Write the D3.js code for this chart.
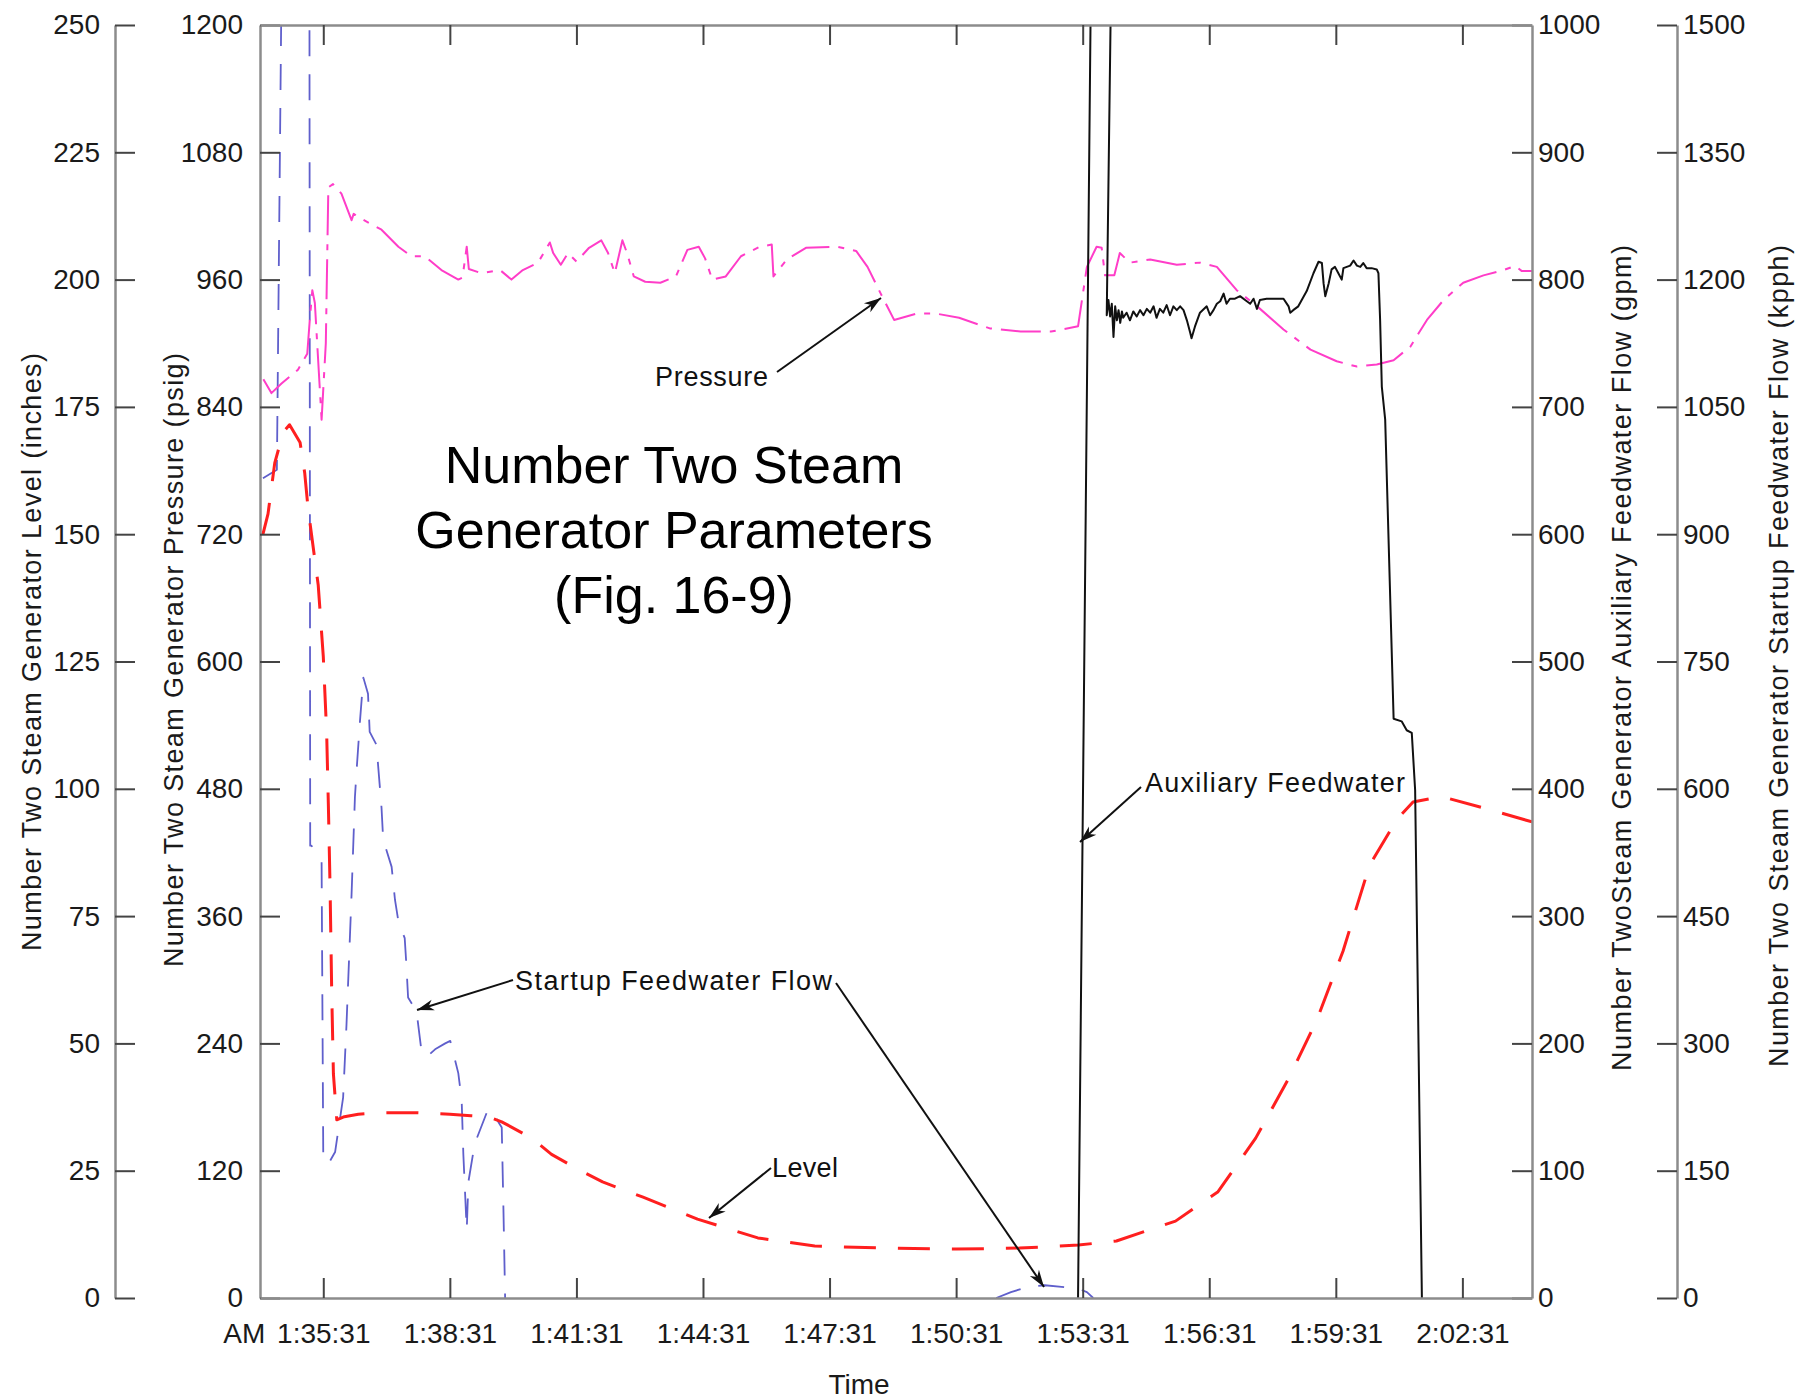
<!DOCTYPE html>
<html>
<head>
<meta charset="utf-8">
<script src="https://cdn.jsdelivr.net/npm/d3@7"></script>
<style>
  body { margin: 0; background: #fff; }
  svg { display: block; font-family: "Liberation Sans", Arial, sans-serif; }
  .tick text { fill: #1a1a1a; font-size: 28px; }
  .tick line { stroke: #444; stroke-width: 2; }
  .domain { stroke: #8c8c8c; stroke-width: 2.5; }
</style>
</head>
<body>
<div id="chart"></div>
<script>
// svg size
var svgWidth = 1811;
var svgHeight = 1400;

// plot frame
var plot = { left: 260, right: 1532, top: 25, bottom: 1298 };

// time is minutes after 1:35:31 AM
var baseSeconds = 1 * 3600 + 35 * 60 + 31;
var timeDomain = [-1.5, 28.65];
var timeTicks = [0, 3, 6, 9, 12, 15, 18, 21, 24, 27];

// axis ticks
var levelTicks = [0, 25, 50, 75, 100, 125, 150, 175, 200, 225, 250];
var pressureTicks = [0, 120, 240, 360, 480, 600, 720, 840, 960, 1080, 1200];
var auxTicks = [0, 100, 200, 300, 400, 500, 600, 700, 800, 900, 1000];
var startupTicks = [0, 150, 300, 450, 600, 750, 900, 1050, 1200, 1350, 1500];

// Level (inches)  [minutes, value]
var levelData = [
  [-1.43, 150], [-1.31, 154], [-1.15, 164], [-0.95, 170], [-0.8, 171.5],
  [-0.55, 168], [-0.44, 162], [-0.36, 155], [-0.12, 140], [0, 126],
  [0.08, 111], [0.12, 97], [0.16, 81], [0.2, 60], [0.24, 44], [0.32, 35],
  [0.5, 35.6], [0.83, 36.1], [1.4, 36.4], [2.2, 36.4], [3.0, 36.1],
  [3.5, 35.8], [3.91, 35.6], [4.23, 34.6], [4.94, 31.4], [5.41, 28.2],
  [6.08, 25.1], [6.62, 22.8], [7.58, 19.8], [8.87, 15.5], [10.3, 11.8],
  [11.65, 10.2], [13.3, 9.8], [15, 9.6], [16.5, 9.8], [17.9, 10.4],
  [18.8, 11.2], [20.2, 15.1], [21.2, 20.8], [22.1, 31.4], [22.9, 43.4],
  [23.55, 54.6], [24.17, 68.1], [24.8, 85], [25.45, 94], [25.83, 97.4],
  [26.5, 98.5], [27.6, 96], [28.65, 93.5]
];

// Pressure (psig)
var pressureData = [
  [-1.42, 866], [-1.23, 853], [-0.99, 862], [-0.6, 875], [-0.38, 890],
  [-0.32, 922], [-0.26, 950], [-0.2, 938], [-0.04, 828], [0.06, 900],
  [0.12, 1047], [0.23, 1050], [0.43, 1041], [0.67, 1016], [0.72, 1022],
  [0.83, 1019], [1.38, 1007], [1.78, 991], [2.09, 982], [2.41, 982],
  [2.8, 969], [3.2, 960], [3.3, 962], [3.4, 991], [3.45, 970], [3.75, 966],
  [4.19, 969], [4.46, 960], [4.73, 969], [5.09, 976], [5.37, 995],
  [5.45, 985], [5.63, 974], [5.8, 985], [6.0, 977], [6.3, 990], [6.59, 997],
  [6.75, 985], [6.91, 966], [7.09, 997], [7.2, 985], [7.36, 963],
  [7.63, 958], [7.99, 957], [8.36, 963], [8.63, 988], [8.9, 991],
  [9.05, 980], [9.22, 960], [9.54, 963], [9.9, 982], [10.35, 991],
  [10.63, 993], [10.67, 963], [10.99, 979], [11.44, 990], [12.17, 991],
  [12.63, 987], [12.9, 972], [13.21, 947], [13.53, 922], [14.07, 928],
  [14.52, 928], [15.07, 924], [15.8, 914], [16.53, 911], [17.25, 911],
  [17.89, 916], [18.1, 972], [18.33, 991], [18.45, 990], [18.53, 964],
  [18.75, 964], [18.88, 985], [19.12, 976], [19.6, 979], [20.23, 974],
  [20.78, 976], [21.18, 972], [21.65, 950], [22.13, 935], [22.76, 913],
  [23.4, 894], [24.02, 883], [24.5, 878], [24.97, 880], [25.37, 884],
  [25.77, 897], [26.16, 922], [26.56, 941], [27.02, 957], [27.5, 964],
  [27.98, 969], [28.25, 973], [28.41, 968], [28.65, 968]
];

// Startup feedwater flow (kpph), null breaks the line
var startupData = [
  [-1.43, 966], [-1.10, 976], [-0.97, 1650], [-0.33, 1650], [-0.31, 533],
  [-0.28, 533], [-0.04, 514], [0.0, 163], [0.12, 158], [0.28, 172],
  [0.47, 236], [0.55, 322], [0.67, 475], [0.75, 590], [0.79, 622],
  [0.87, 680], [0.95, 731], [1.06, 712], [1.10, 667], [1.26, 652],
  [1.38, 578], [1.42, 540], [1.62, 508], [1.70, 469], [1.78, 444],
  [1.93, 424], [1.97, 392], [2.01, 354], [2.21, 338], [2.33, 290],
  [2.45, 284], [2.65, 293], [2.89, 300], [3.01, 303], [3.20, 265],
  [3.28, 233], [3.32, 169], [3.40, 80], [3.44, 137], [3.59, 182],
  [3.91, 223], [4.07, 214], [4.23, 201], [4.27, 105], [4.31, 0],
  [10, null],
  [15.95, 0], [16.3, 7], [16.7, 13], [17.1, 15], [17.5, 13], [17.9, 11],
  [18.1, 7], [18.25, 0]
];

// Auxiliary feedwater flow (gpm)
var auxData = [
  [17.89, 0], [18.2, 1050], [18.45, 1100], [18.66, 1000], [18.57, 772],
  [18.61, 784], [18.65, 771], [18.69, 781], [18.73, 755], [18.77, 779],
  [18.81, 768], [18.85, 776], [18.89, 766], [18.93, 775], [18.96, 770],
  [19.04, 774], [19.12, 768], [19.2, 775], [19.28, 771], [19.36, 776],
  [19.44, 772], [19.52, 777], [19.6, 774], [19.68, 779], [19.75, 770],
  [19.83, 777], [19.91, 774], [19.99, 780], [20.07, 772], [20.15, 779],
  [20.23, 776], [20.31, 779], [20.39, 776], [20.47, 768], [20.55, 758],
  [20.58, 754], [20.66, 763], [20.78, 774], [20.94, 779], [21.02, 772],
  [21.1, 776], [21.18, 781], [21.26, 783], [21.34, 789], [21.41, 781],
  [21.49, 785], [21.61, 785], [21.73, 787], [21.85, 784], [21.97, 781],
  [22.05, 785], [22.13, 777], [22.2, 784], [22.36, 785], [22.76, 785],
  [22.88, 779], [22.92, 774], [22.99, 776], [23.11, 779], [23.31, 791],
  [23.47, 805], [23.59, 814], [23.67, 813], [23.71, 797], [23.75, 787],
  [23.83, 797], [23.9, 808], [23.98, 810], [24.06, 805], [24.14, 800],
  [24.18, 809], [24.26, 810], [24.34, 811], [24.42, 815], [24.5, 811],
  [24.58, 810], [24.65, 813], [24.73, 809], [24.85, 809], [24.97, 808],
  [25.01, 805], [25.05, 768], [25.09, 716], [25.17, 690], [25.37, 455],
  [25.56, 453], [25.68, 446], [25.8, 444], [25.88, 399], [26.04, 0]
];

// annotation labels
var annotations = [
  { text: "Pressure", x: 655, y: 386, len: 113, from: [777, 372], to: [881, 298] },
  { text: "Startup Feedwater Flow", x: 515, y: 990, len: 317, from: [513, 980], to: [417, 1010] },
  { text: "", x: 0, y: 0, len: 0, from: [836, 983], to: [1044, 1287] },
  { text: "Level", x: 772, y: 1177, len: 66, from: [771, 1168], to: [709, 1218] },
  { text: "Auxiliary Feedwater", x: 1145, y: 792, len: 260, from: [1141, 787], to: [1080, 842] }
];

var titleLines = ["Number Two Steam", "Generator Parameters", "(Fig. 16-9)"];

function formatTime(t) {
  var s = Math.round(baseSeconds + t * 60);
  var h = Math.floor(s / 3600);
  var m = Math.floor((s % 3600) / 60);
  var sec = s % 60;
  return h + ":" + String(m).padStart(2, "0") + ":" + String(sec).padStart(2, "0");
}

var plain = d3.format("d");

var svg = d3
  .select("#chart")
  .append("svg")
  .attr("width", svgWidth)
  .attr("height", svgHeight);

// scales
var xScale = d3.scaleLinear().domain(timeDomain).range([plot.left, plot.right]);
var levelScale = d3.scaleLinear().domain([0, 250]).range([plot.bottom, plot.top]);
var pressureScale = d3.scaleLinear().domain([0, 1200]).range([plot.bottom, plot.top]);
var auxScale = d3.scaleLinear().domain([0, 1000]).range([plot.bottom, plot.top]);
var startupScale = d3.scaleLinear().domain([0, 1500]).range([plot.bottom, plot.top]);

// arrowhead marker
svg.append("defs")
  .append("marker")
  .attr("id", "arrow")
  .attr("markerUnits", "userSpaceOnUse")
  .attr("viewBox", "-18 -7 20 14")
  .attr("markerWidth", 20)
  .attr("markerHeight", 14)
  .attr("refX", 0)
  .attr("refY", 0)
  .attr("orient", "auto")
  .append("path")
  .attr("d", "M0,0 L-17,-5.5 L-12,0 L-17,5.5 Z")
  .attr("fill", "#111");

svg.select("defs")
  .append("clipPath")
  .attr("id", "plotClip")
  .append("rect")
  .attr("x", plot.left)
  .attr("y", plot.top)
  .attr("width", plot.right - plot.left)
  .attr("height", plot.bottom - plot.top);

// series
var lines = svg.append("g").attr("clip-path", "url(#plotClip)");

function drawSeries(data, yScale, color, width, dash) {
  var line = d3.line()
    .defined(d => d[1] !== null)
    .x(d => xScale(d[0]))
    .y(d => yScale(d[1]));
  lines.append("path")
    .datum(data)
    .attr("d", line)
    .attr("fill", "none")
    .attr("stroke", color)
    .attr("stroke-width", width)
    .attr("stroke-dasharray", dash)
    .attr("stroke-linejoin", "round");
}

drawSeries(startupData, startupScale, "#5f5fcc", 1.8, "26,18");
drawSeries(pressureData, pressureScale, "#ff3dc8", 2, "40,9,6,9");
drawSeries(levelData, levelScale, "#ff1f1f", 3, "32,22");
drawSeries(auxData, auxScale, "#111", 2, null);

// axes
svg.append("g")
  .attr("transform", "translate(115,0)")
  .call(d3.axisLeft(levelScale).tickValues(levelTicks).tickFormat(plain)
    .tickSizeInner(-20).tickSizeOuter(0).tickPadding(15));

svg.append("g")
  .attr("transform", `translate(${plot.left},0)`)
  .call(d3.axisLeft(pressureScale).tickValues(pressureTicks).tickFormat(plain)
    .tickSizeInner(-20).tickSizeOuter(0).tickPadding(17));

svg.append("g")
  .attr("transform", `translate(${plot.right},0)`)
  .call(d3.axisRight(auxScale).tickValues(auxTicks).tickFormat(plain)
    .tickSizeInner(-20).tickSizeOuter(0).tickPadding(6));

svg.append("g")
  .attr("transform", "translate(1677,0)")
  .call(d3.axisRight(startupScale).tickValues(startupTicks).tickFormat(plain)
    .tickSizeInner(-20).tickSizeOuter(0).tickPadding(6));

svg.append("g")
  .attr("transform", `translate(0,${plot.top})`)
  .call(d3.axisTop(xScale).tickValues(timeTicks).tickSizeInner(-20).tickSizeOuter(0).tickFormat(""));

svg.append("g")
  .attr("transform", `translate(0,${plot.bottom})`)
  .call(d3.axisBottom(xScale).tickValues(timeTicks).tickSizeInner(-20).tickSizeOuter(0)
    .tickPadding(25).tickFormat(formatTime));

svg.selectAll(".tick text").attr("font-family", null).attr("font-size", null);

// "AM" prefix before the first time label
svg.append("text")
  .attr("x", xScale(0) - 58)
  .attr("y", plot.bottom + 45)
  .attr("text-anchor", "end")
  .attr("font-size", 28)
  .attr("fill", "#1a1a1a")
  .text("AM");

// axis titles
svg.append("text")
  .attr("x", 859)
  .attr("y", 1394)
  .attr("text-anchor", "middle")
  .attr("font-size", 28)
  .attr("fill", "#1a1a1a")
  .text("Time");

var yTitles = [
  { text: "Number Two Steam Generator Level (inches)", x: 41, y: 652, len: 598 },
  { text: "Number Two Steam Generator Pressure (psig)", x: 183, y: 660, len: 614 },
  { text: "Number TwoSteam Generator Auxiliary Feedwater Flow (gpm)", x: 1631, y: 658, len: 826 },
  { text: "Number Two Steam Generator Startup Feedwater Flow (kpph)", x: 1788, y: 656, len: 822 }
];

yTitles.forEach(function(d) {
  svg.append("text")
    .attr("transform", `translate(${d.x},${d.y}) rotate(-90)`)
    .attr("text-anchor", "middle")
    .attr("font-size", 27)
    .attr("fill", "#1a1a1a")
    .attr("textLength", d.len)
    .attr("lengthAdjust", "spacing")
    .text(d.text);
});

// title
svg.append("g")
  .selectAll("text")
  .data(titleLines)
  .enter()
  .append("text")
  .attr("x", 674)
  .attr("y", (d, i) => 483 + i * 65)
  .attr("text-anchor", "middle")
  .attr("font-size", 52)
  .attr("fill", "#000")
  .text(d => d);

// annotations with arrows
annotations.forEach(function(a) {
  svg.append("line")
    .attr("x1", a.from[0])
    .attr("y1", a.from[1])
    .attr("x2", a.to[0])
    .attr("y2", a.to[1])
    .attr("stroke", "#111")
    .attr("stroke-width", 2)
    .attr("marker-end", "url(#arrow)");
  if (a.text) {
    svg.append("text")
      .attr("x", a.x)
      .attr("y", a.y)
      .attr("font-size", 27)
      .attr("fill", "#111")
      .attr("textLength", a.len)
      .attr("lengthAdjust", "spacing")
      .text(a.text);
  }
});
</script>
</body>
</html>
